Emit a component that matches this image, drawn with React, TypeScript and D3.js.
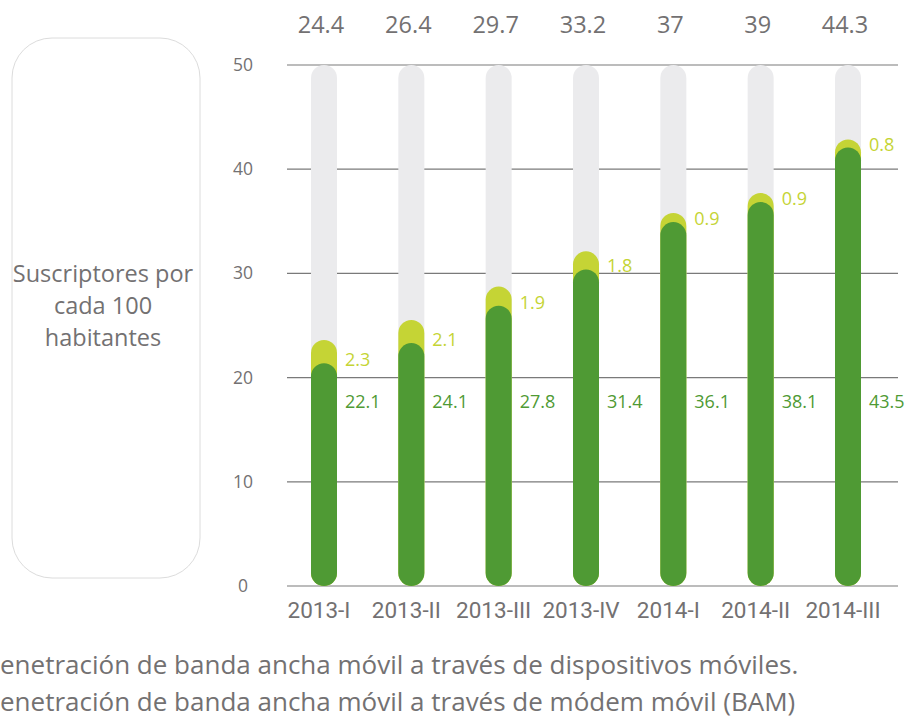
import React from "react";
import * as d3 from "d3";

const categories = ["2013-I", "2013-II", "2013-III", "2013-IV", "2014-I", "2014-II", "2014-III"];
const devices = [22.1, 24.1, 27.8, 31.4, 36.1, 38.1, 43.5];
const modems = [2.3, 2.1, 1.9, 1.8, 0.9, 0.9, 0.8];
const totals = [24.4, 26.4, 29.7, 33.2, 37, 39, 44.3];
const yTicks = [0, 10, 20, 30, 40, 50];
const axisTitle = ["Suscriptores por", "cada 100", "habitantes"];
const legendLines = [
  "enetración de banda ancha móvil a través de dispositivos móviles.",
  "enetración de banda ancha móvil a través de módem móvil (BAM)",
];

const W = 907;
const H = 727;
const GREY = "#ebebed";
const YELLOW = "#c5d435";
const GREEN = "#4f9a34";
const TEXT = "#737172";
const FONT = "'Open Sans', 'Noto Sans', sans-serif";

export default function App() {
  const y = d3.scaleLinear().domain([0, 50]).range([586, 65]);
  const yBar = d3.scaleLinear().domain([0, 50]).range([586, 82]);
  const x = d3.scalePoint<string>().domain(categories).range([324, 848]);
  const bw = 26;
  const r = bw / 2;

  return (
    <svg
      width={W}
      height={H}
      style={{ position: "absolute", left: 0, top: 0, background: "#fff" }}
      fontFamily={FONT}
    >
      {/* left title box */}
      <rect x={12} y={38} width={188} height={540} rx={40} ry={40} fill="none" stroke="#dcdcdc" strokeWidth={1} />
      {axisTitle.map((t, i) => (
        <text key={t} x={103} y={282 + i * 32} textAnchor="middle" fontSize={23.5} fill={TEXT}>
          {t}
        </text>
      ))}

      {/* gridlines and y ticks */}
      {yTicks.map((t) => (
        <g key={t}>
          <line x1={287} x2={898} y1={y(t)} y2={y(t)} stroke="#7a7a7a" strokeWidth={1.2} />
          <text x={243} y={y(t) + 6} textAnchor="middle" fontSize={17.5} fill={TEXT}>
            {t}
          </text>
        </g>
      ))}

      {/* bars */}
      {categories.map((c, i) => {
        const cx = x(c) as number;
        const gTop = yBar(devices[i]);
        const tTop = yBar(totals[i]);
        return (
          <g key={c}>
            <rect x={cx - r} y={y(50)} width={bw} height={y(0) - y(50)} rx={r} ry={r} fill={GREY} />
            <rect x={cx - r} y={tTop} width={bw} height={y(0) - tTop} rx={r} ry={r} fill={YELLOW} />
            <rect x={cx - r} y={gTop} width={bw} height={y(0) - gTop} rx={r} ry={r} fill={GREEN} />
            <text x={cx + 21} y={gTop + 3} fontSize={18} fill={YELLOW}>
              {modems[i]}
            </text>
            <text x={cx + 21} y={408} fontSize={18} fill={GREEN}>
              {devices[i]}
            </text>
            <text x={cx - 3} y={33} textAnchor="middle" fontSize={23.5} fill={TEXT}>
              {totals[i]}
            </text>
            <text
              x={cx - 5}
              y={618}
              textAnchor="middle"
              fontSize={22.5}
              fill={TEXT}
              fontFamily="Roboto, sans-serif"
            >
              {c}
            </text>
          </g>
        );
      })}

      {/* legend text */}
      {legendLines.map((t, i) => (
        <text key={i} x={0} y={674 + i * 37} fontSize={26} fill={TEXT}>
          {t}
        </text>
      ))}
    </svg>
  );
}
